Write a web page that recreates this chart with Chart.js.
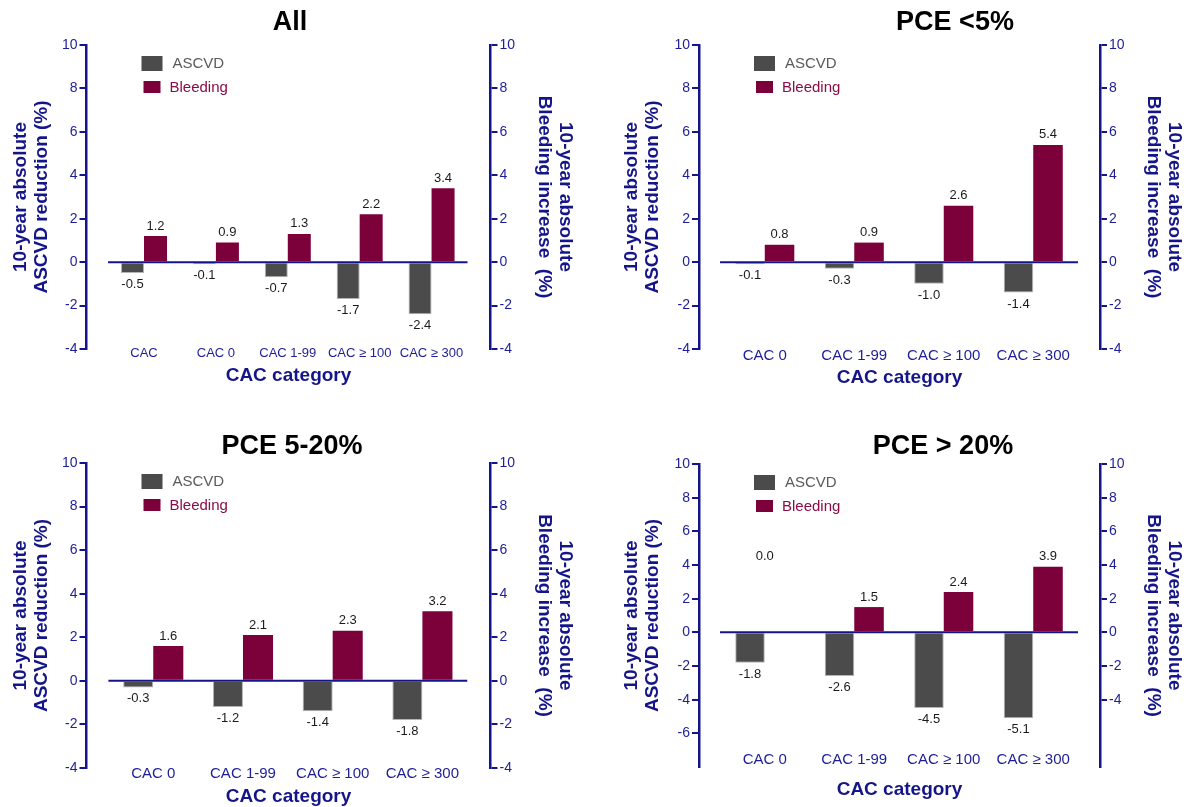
<!DOCTYPE html>
<html>
<head>
<meta charset="utf-8">
<script src="https://cdn.jsdelivr.net/npm/chart.js@4.4.1/dist/chart.umd.min.js"></script>
<style>
  html, body { margin: 0; padding: 0; background: #fff; }
  #wrap { position: relative; width: 1192px; height: 807px; overflow: hidden; }
  canvas { position: absolute; }
</style>
</head>
<body>
<div id="wrap">
  <canvas id="c1" width="596" height="403" style="left:0;top:0"></canvas>
  <canvas id="c2" width="596" height="403" style="left:596px;top:0"></canvas>
  <canvas id="c3" width="596" height="403" style="left:0;top:404px"></canvas>
  <canvas id="c4" width="596" height="403" style="left:596px;top:404px"></canvas>
</div>
<script>
// categories
const catsAll = ['CAC', 'CAC 0', 'CAC 1-99', 'CAC \u2265 100', 'CAC \u2265 300'];
const catsPce = ['CAC 0', 'CAC 1-99', 'CAC \u2265 100', 'CAC \u2265 300'];

// series values (10-year absolute %)
const ascvdAll = [-0.5, -0.1, -0.7, -1.7, -2.4];
const bleedAll = [1.2, 0.9, 1.3, 2.2, 3.4];
const ascvdLow = [-0.1, -0.3, -1.0, -1.4];
const bleedLow = [0.8, 0.9, 2.6, 5.4];
const ascvdMid = [-0.3, -1.2, -1.4, -1.8];
const bleedMid = [1.6, 2.1, 2.3, 3.2];
const ascvdHigh = [-1.8, -2.6, -4.5, -5.1];
const bleedHigh = [0.0, 1.5, 2.4, 3.9];

// tick labels shown on the y axes
const yTicksStd = [-4, -2, 0, 2, 4, 6, 8, 10];
const yTicksHighLeft = [-6, -4, -2, 0, 2, 4, 6, 8, 10];
const yTicksHighRight = [-4, -2, 0, 2, 4, 6, 8, 10];

const NAVY = '#15158a';
const TICK = '#1d1d98';
const GREY = '#4b4b4b';
const MAROON = '#7c003a';
const FONT = '"Liberation Sans", Arial, Helvetica, sans-serif';

Chart.defaults.font.family = FONT;

const zeroLine = {
  id: 'zeroLine',
  afterDatasetsDraw(chart) {
    const xs = chart.scales.x, ys = chart.scales.y;
    const n = chart.data.datasets[0].data.length;
    const py = ys.getPixelForValue(0);
    const ctx = chart.ctx;
    ctx.save();
    ctx.strokeStyle = NAVY;
    ctx.lineWidth = 2;
    ctx.beginPath();
    ctx.moveTo(xs.getPixelForValue(-0.5), py);
    ctx.lineTo(xs.getPixelForValue(n - 0.5), py);
    ctx.stroke();
    ctx.restore();
  }
};

const barValues = {
  id: 'barValues',
  afterDatasetsDraw(chart, args, opts) {
    const ctx = chart.ctx;
    ctx.save();
    ctx.font = '13px ' + FONT;
    ctx.fillStyle = '#1a1a1a';
    ctx.textAlign = 'center';
    ctx.textBaseline = 'middle';
    chart.data.datasets.forEach((ds, di) => {
      chart.getDatasetMeta(di).data.forEach((bar, i) => {
        const v = ds.data[i].y;
        let x = bar.x, y;
        if (v === 0 && opts.zeroAt != null) {
          x = chart.scales.x.getPixelForValue(i);
          y = chart.scales.y1.getPixelForValue(opts.zeroAt);
        } else if (v < 0) {
          y = bar.y + 11.5;
        } else {
          y = bar.y - 10;
        }
        ctx.fillText(v.toFixed(1), x, y);
      });
    });
    ctx.restore();
  }
};

const boxLegend = {
  id: 'boxLegend',
  afterDraw(chart) {
    const {left, top} = chart.chartArea;
    const ctx = chart.ctx;
    const items = [
      {box: [55, 11, 21, 15], tx: 86, ty: 18.5, color: '#5a5a5a'},
      {box: [57, 36, 17, 12], tx: 83, ty: 43, color: '#8a0c48'}
    ];
    ctx.save();
    ctx.font = '15px ' + FONT;
    ctx.textBaseline = 'middle';
    ctx.textAlign = 'left';
    chart.data.datasets.forEach((ds, i) => {
      const it = items[i];
      ctx.fillStyle = ds.backgroundColor;
      ctx.fillRect(left + it.box[0], top + it.box[1], it.box[2], it.box[3]);
      ctx.fillStyle = it.color;
      ctx.fillText(ds.label, left + it.tx, top + it.ty);
    });
    ctx.restore();
  }
};

const panelTitle = {
  id: 'panelTitle',
  afterDraw(chart, args, opts) {
    const ctx = chart.ctx;
    ctx.save();
    ctx.font = 'bold 27px ' + FONT;
    ctx.fillStyle = '#000';
    ctx.textAlign = 'center';
    ctx.textBaseline = 'middle';
    ctx.fillText(opts.text, opts.x, opts.y);
    ctx.restore();
  }
};

function yAxis(pos, cfg, shown, title, titlePad, width) {
  return {
    type: 'linear',
    position: pos,
    min: cfg.yMin,
    max: 10,
    ticks: {
      stepSize: 2,
      color: TICK,
      padding: 2,
      font: {size: 14},
      callback: v => shown.includes(v) ? String(v) : null
    },
    grid: {display: true, drawOnChartArea: false, drawTicks: true, tickLength: 7, color: NAVY, lineWidth: 2},
    border: {display: true, color: NAVY, width: 2.5},
    title: {
      display: true,
      text: title,
      color: NAVY,
      font: {size: 19, weight: 'bold', lineHeight: 1.08},
      padding: {top: titlePad, bottom: 0}
    },
    afterFit: s => { s.width = width; }
  };
}

function makePanel(id, cfg) {
  const cats = cfg.cats;
  new Chart(document.getElementById(id), {
    type: 'bar',
    data: {
      datasets: [
        {
          label: 'ASCVD',
          data: cfg.ascvd.map((v, i) => ({x: i, y: v})),
          backgroundColor: GREY,
          borderColor: '#b4b4b4',
          borderWidth: 1,
          borderSkipped: 'start',
          yAxisID: 'y'
        },
        {
          label: 'Bleeding',
          data: cfg.bleed.map((v, i) => ({x: i, y: v})),
          backgroundColor: MAROON,
          borderWidth: 0,
          yAxisID: 'y1'
        }
      ]
    },
    options: {
      responsive: false,
      animation: false,
      devicePixelRatio: 1,
      layout: {padding: {top: cfg.padTop, left: 0, right: 0, bottom: 0}},
      datasets: {bar: {categoryPercentage: cfg.catPct, barPercentage: 1}},
      plugins: {
        legend: {display: false},
        tooltip: {enabled: false},
        title: {display: false},
        panelTitle: {text: cfg.title, x: cfg.titleX, y: cfg.titleY},
        barValues: {zeroAt: cfg.zeroAt}
      },
      scales: {
        x: {
          type: 'linear',
          position: 'bottom',
          offset: false,
          min: cfg.xMin,
          max: cfg.xMax,
          grid: {display: false, drawTicks: false},
          border: {display: false},
          ticks: {
            stepSize: 1,
            includeBounds: false,
            autoSkip: false,
            maxRotation: 0,
            minRotation: 0,
            mirror: true,
            padding: cfg.xPad,
            color: TICK,
            font: {size: cfg.xFont},
            callback: v => {
              const i = Math.round(v);
              return Math.abs(v - i) < 1e-6 && cats[i] !== undefined ? cats[i] : null;
            }
          },
          title: {
            display: true,
            text: 'CAC category',
            color: NAVY,
            font: {size: 19, weight: 'bold'},
            padding: {top: 0, bottom: cfg.xTitlePad}
          },
          afterFit: s => { s.height = cfg.xh; }
        },
        y: yAxis('left', cfg, cfg.leftTicks, ['10-year absolute', 'ASCVD reduction (%)'], cfg.ltPad, cfg.wl),
        y1: yAxis('right', cfg, cfg.rightTicks, ['10-year absolute', 'Bleeding increase  (%)'], cfg.rtPad, cfg.wr)
      }
    },
    plugins: [zeroLine, barValues, boxLegend, panelTitle]
  });
}

makePanel('c1', {
  cats: catsAll, ascvd: ascvdAll, bleed: bleedAll,
  title: 'All', titleX: 290, titleY: 22.5,
  padTop: 45, xh: 54, wl: 86.5, wr: 105.5,
  xMin: -0.8, xMax: 4.82, catPct: 0.64,
  xFont: 13, xPad: -11.8, xTitlePad: 15.6,
  yMin: -4, leftTicks: yTicksStd, rightTicks: yTicksStd,
  ltPad: 10.7, rtPad: 20.7
});

makePanel('c2', {
  cats: catsPce, ascvd: ascvdLow, bleed: bleedLow,
  title: 'PCE <5%', titleX: 359, titleY: 23,
  padTop: 45, xh: 54, wl: 103, wr: 92,
  xMin: -0.735, xMax: 3.746, catPct: 0.66,
  xFont: 15, xPad: -16, xTitlePad: 13.6,
  yMin: -4, leftTicks: yTicksStd, rightTicks: yTicksStd,
  ltPad: 25.7, rtPad: 7.7
});

makePanel('c3', {
  cats: catsPce, ascvd: ascvdMid, bleed: bleedMid,
  title: 'PCE 5-20%', titleX: 292, titleY: 42.5,
  padTop: 59, xh: 39, wl: 86.5, wr: 105.5,
  xMin: -0.744, xMax: 3.759, catPct: 0.67,
  xFont: 15, xPad: -15, xTitlePad: -0.9,
  yMin: -4, leftTicks: yTicksStd, rightTicks: yTicksStd,
  ltPad: 10.7, rtPad: 20.7
});

makePanel('c4', {
  cats: catsPce, ascvd: ascvdHigh, bleed: bleedHigh,
  title: 'PCE > 20%', titleX: 347, titleY: 43,
  padTop: 60, xh: 40, wl: 103, wr: 92,
  xMin: -0.735, xMax: 3.746, catPct: 0.66,
  xFont: 15, xPad: -2, xTitlePad: 5.6,
  yMin: -8, leftTicks: yTicksHighLeft, rightTicks: yTicksHighRight,
  ltPad: 25.7, rtPad: 7.7, zeroAt: 4.5
});
</script>
</body>
</html>
